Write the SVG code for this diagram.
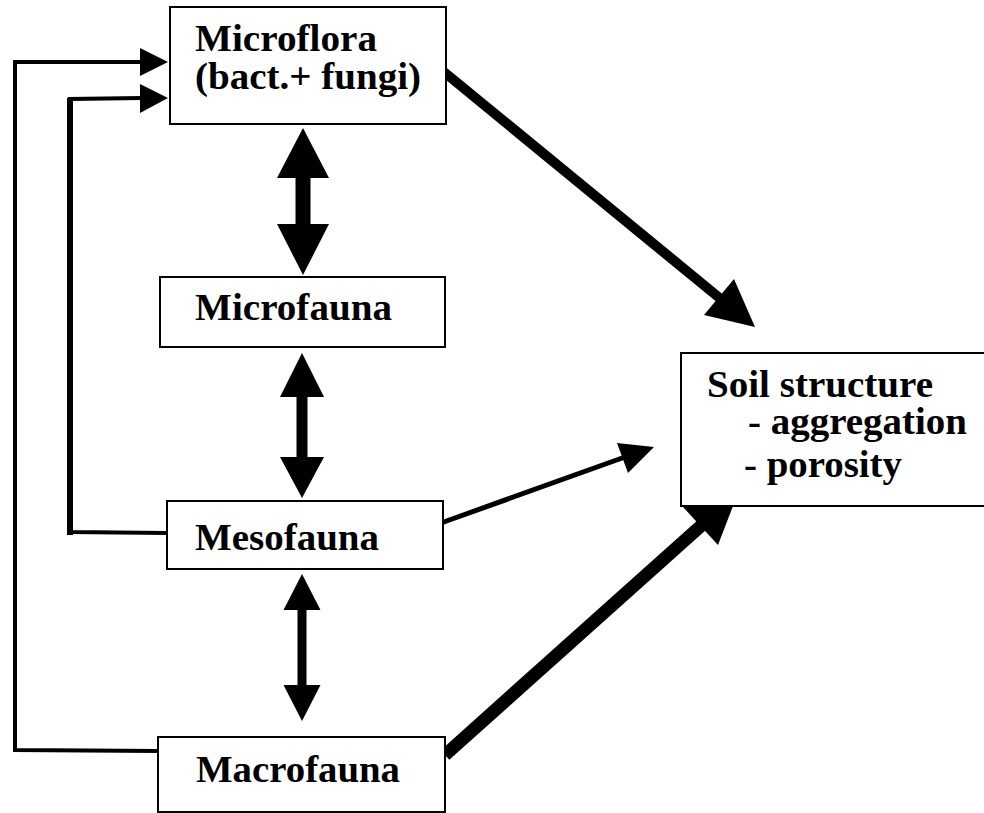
<svg xmlns="http://www.w3.org/2000/svg" width="984" height="813" viewBox="0 0 984 813">
<style>
.box{fill:#fff;stroke:#000;stroke-width:2}
.t{font-family:"Liberation Serif","Times New Roman",serif;font-weight:bold;font-size:37px;fill:#000}
.ln{fill:none;stroke:#000;stroke-linejoin:miter}
.hd{fill:#000;stroke:none}
</style>
<rect width="984" height="813" fill="#fff"/>
<g id="connectors">
  <polyline class="ln" stroke-width="4" points="158,751 15,750 15,62 142,62"/>
  <polygon class="hd" points="140,48 168,62 140,76"/>
  <polyline class="ln" stroke-width="4" points="167,533 70,532 70,99 142,98"/>
  <line class="ln" stroke-width="6" x1="70" y1="535" x2="70" y2="98"/>
  <polygon class="hd" points="140,84 168,98 140,113"/>
  <polygon class="hd" points="303,128 329,178 310.5,178 310.5,224 329,224 303,275 277,224 295.5,224 295.5,178 277,178"/>
  <polygon class="hd" points="302,353 324,397 307.5,397 307.5,457 324,457 302,498 280,457 296.5,457 296.5,397 280,397"/>
  <polygon class="hd" points="302,574 320.5,610 306.5,610 306.5,685 320.5,685 302,721 283.5,685 297.5,685 297.5,610 283.5,610"/>
  <line class="ln" stroke-width="10" x1="444" y1="72" x2="722" y2="300"/>
  <polygon class="hd" points="734,279 755,327 704,315"/>
  <line class="ln" stroke-width="5" x1="441" y1="523" x2="625" y2="457"/>
  <polygon class="hd" points="617,443 654,447 628,473"/>
  <line class="ln" stroke-width="13" x1="445" y1="755" x2="703" y2="524"/>
  <polygon class="hd" points="683,507 738,493 718,545"/>
</g>
<g id="microflora">
  <rect class="box" x="170" y="7" width="276" height="117"/>
  <text class="t" x="195" y="51" textLength="182" lengthAdjust="spacingAndGlyphs">Microflora</text>
  <text class="t" x="195" y="89" textLength="226" lengthAdjust="spacingAndGlyphs">(bact.+ fungi)</text>
</g>
<g id="microfauna">
  <rect class="box" x="160" y="277" width="285" height="70"/>
  <text class="t" x="195" y="320" textLength="197" lengthAdjust="spacingAndGlyphs">Microfauna</text>
</g>
<g id="mesofauna">
  <rect class="box" x="167" y="501" width="276" height="68"/>
  <text class="t" x="195" y="550" textLength="184" lengthAdjust="spacingAndGlyphs">Mesofauna</text>
</g>
<g id="macrofauna">
  <rect class="box" x="158" y="737" width="287" height="75"/>
  <text class="t" x="196" y="782" textLength="204" lengthAdjust="spacingAndGlyphs">Macrofauna</text>
</g>
<g id="soil-structure">
  <rect class="box" x="681" y="353" width="310" height="153"/>
  <text class="t" x="707" y="397" textLength="226" lengthAdjust="spacingAndGlyphs">Soil structure</text>
  <text class="t" x="748" y="434" textLength="219" lengthAdjust="spacingAndGlyphs">- aggregation</text>
  <text class="t" x="744" y="477" textLength="158" lengthAdjust="spacingAndGlyphs">- porosity</text>
</g>
</svg>
